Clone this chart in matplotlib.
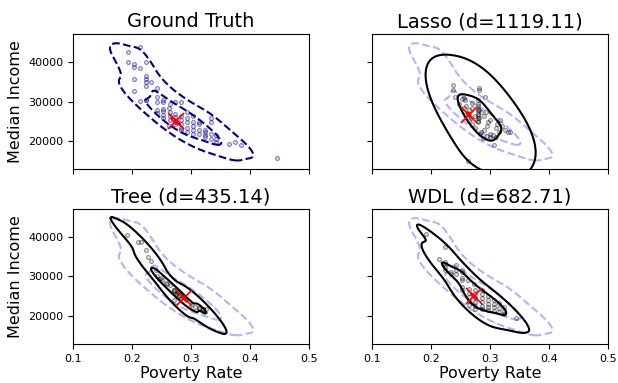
import matplotlib
matplotlib.use("Agg")
import matplotlib.pyplot as plt
from matplotlib.patches import Ellipse
import numpy as np

# ground truth (poverty rate, median income)
gt_pov = [0.213, 0.193, 0.193, 0.203, 0.203, 0.213, 0.223, 0.223, 0.223, 0.223, 0.223, 0.233,
          0.203, 0.203, 0.213, 0.223, 0.223, 0.243, 0.243, 0.243, 0.253, 0.253, 0.243, 0.243,
          0.253, 0.253, 0.253, 0.264, 0.264, 0.264, 0.273, 0.283, 0.263, 0.273, 0.273, 0.273,
          0.273, 0.283, 0.283, 0.283, 0.283, 0.283, 0.293, 0.293, 0.294, 0.294, 0.303, 0.303,
          0.303, 0.303, 0.314, 0.314, 0.314, 0.324, 0.324, 0.324, 0.334, 0.334, 0.334, 0.334,
          0.343, 0.343, 0.365, 0.375, 0.385, 0.445, 0.263, 0.293, 0.314, 0.303, 0.264, 0.253,
          0.343, 0.324]
gt_inc = [43700, 42400, 40000, 39400, 38600, 38300, 40000, 36500, 35700, 35000, 33800, 35000,
          35700, 32600, 30100, 30300, 30500, 33400, 31200, 30000, 30300, 29800, 27800, 27200,
          28100, 27600, 26700, 27500, 26300, 25500, 29800, 30000, 28400, 27000, 26200, 25000,
          24300, 26500, 25500, 24300, 23500, 22800, 26000, 25000, 23500, 22400, 24800, 23800,
          23000, 21800, 23000, 21800, 24300, 23000, 21700, 21000, 25900, 24800, 21800, 20500,
          20500, 19900, 19250, 19900, 19000, 15830, 24000, 27500, 25000, 26300, 29300, 25800,
          21500, 22300]

lasso_pov = [0.238, 0.238, 0.241, 0.252, 0.258, 0.282, 0.282, 0.292, 0.269, 0.264,
             0.279, 0.279, 0.279, 0.279, 0.279, 0.279, 0.279, 0.279, 0.279, 0.279, 0.281, 0.281,
             0.255, 0.260, 0.265, 0.270, 0.275, 0.285, 0.290, 0.295, 0.300, 0.305, 0.310, 0.315,
             0.300, 0.290, 0.285, 0.270, 0.260, 0.295, 0.283, 0.317, 0.334, 0.330, 0.307, 0.263,
             0.300, 0.288, 0.310, 0.320, 0.248, 0.256, 0.275, 0.268, 0.297, 0.312, 0.325, 0.293]
lasso_inc = [34100, 32800, 31200, 30700, 30300, 33400, 33000, 31200, 29700, 27800,
             30300, 29500, 28800, 28200, 27600, 27000, 26400, 25800, 25200, 24900, 28000, 26000,
             28500, 27000, 25500, 24500, 23500, 22500, 23000, 24000, 22000, 21500, 23500, 22500,
             25500, 26500, 27500, 28500, 29000, 21300, 21800, 25300, 22300, 22500, 19000, 15200,
             21000, 20800, 21200, 24000, 29500, 31000, 26500, 26000, 25000, 24500, 23000, 27500]

tree_pov = [0.191, 0.210, 0.216, 0.223, 0.227, 0.233, 0.241, 0.242, 0.246, 0.251, 0.257, 0.264,
            0.272, 0.278, 0.272, 0.286, 0.292, 0.300, 0.306, 0.314, 0.320, 0.326, 0.272, 0.272,
            0.278, 0.275, 0.280, 0.283, 0.314, 0.320, 0.260, 0.250, 0.276, 0.282]
tree_inc = [40500, 38600, 38600, 36700, 34800, 33800, 31500, 30100, 29400, 29000, 28400, 27800,
            26500, 26100, 24000, 24800, 24000, 22800, 22300, 22000, 21900, 21800, 26500, 26300,
            26000, 25500, 25000, 24500, 22000, 21900, 28000, 29500, 25800, 25300]

wdl_pov = [0.192, 0.213, 0.223, 0.223, 0.223, 0.223, 0.223, 0.233, 0.233, 0.243, 0.243, 0.243,
           0.252, 0.252, 0.252, 0.252, 0.263, 0.252, 0.252, 0.272, 0.344,
           0.264, 0.264, 0.264, 0.264, 0.264, 0.275, 0.275, 0.275, 0.275, 0.275, 0.275,
           0.286, 0.286, 0.286, 0.286, 0.286, 0.286, 0.296, 0.296, 0.296, 0.296, 0.296,
           0.306, 0.306, 0.306, 0.306, 0.315, 0.315, 0.315, 0.324, 0.324, 0.324]
wdl_inc = [40700, 34400, 37300, 33600, 33000, 32300, 31500, 31100, 30500, 32800, 31500, 30700,
           31500, 31200, 29700, 29000, 29000, 27300, 26500, 28200, 19700,
           26900, 25900, 24900, 23800, 22800, 26500, 25500, 24500, 23500, 22600, 21900,
           26500, 25500, 24500, 23500, 22600, 21900, 25000, 24100, 23200, 22300, 21600,
           24100, 23200, 22300, 21400, 23300, 22200, 21200, 22300, 21400, 20500]

titles = ["Ground Truth", "Lasso (d=1119.11)", "Tree (d=435.14)", "WDL (d=682.71)"]
center_pov = [0.274, 0.264, 0.288, 0.273]
center_inc = [25080, 26750, 24600, 25000]
# kde bandwidth factor (outer, inner) and mass proportions (outer, inner) per panel
bw_outer = [1.0, 2.6, 1.0, 1.1]
bw_inner = [0.9, 1.3, 0.8, 0.9]
prop_outer = [0.08, 0.05, 0.03, 0.04]
prop_inner = [0.5, 0.45, 0.45, 0.45]


def kde_grid(xs, ys, factor, gx, gy):
    data = np.vstack([xs, ys])
    n = data.shape[1]
    cov = np.cov(data) * (factor * n ** (-1 / 6)) ** 2
    inv = np.linalg.inv(cov)
    pts = np.stack([gx.ravel(), gy.ravel()])
    d = pts[:, :, None] - data[:, None, :]
    e = np.einsum('ij,jgn,ign->gn', inv, d, d)
    return np.exp(-0.5 * e).sum(1).reshape(gx.shape)


def mass_level(z, p):
    flat = np.sort(z.ravel())
    cum = np.cumsum(flat)
    cum /= cum[-1]
    return flat[np.searchsorted(cum, p)]


def kde_contours(ax, xs, ys, i, **kw):
    for bw, p in [(bw_outer[i], prop_outer[i]), (bw_inner[i], prop_inner[i])]:
        z = kde_grid(xs, ys, bw, gx, gy)
        ax.contour(gx, gy, z, levels=[mass_level(z, p)], **kw)


gx, gy = np.meshgrid(np.linspace(0.0, 0.6, 240), np.linspace(0, 60000, 240))

fig, axes = plt.subplots(2, 2, figsize=(6.18, 3.83), dpi=100, sharex=True, sharey=True)
fig.subplots_adjust(left=0.118, right=0.984, top=0.911, bottom=0.102, hspace=0.296, wspace=0.267)

panels = [(gt_pov, gt_inc), (lasso_pov, lasso_inc), (tree_pov, tree_inc), (wdl_pov, wdl_inc)]
for i, ax in enumerate(axes.flat):
    xs, ys = panels[i]
    if i == 0:
        ax.scatter(xs, ys, s=8, facecolors=(0.0, 0.0, 0.55, 0.15), edgecolors=(0.0, 0.0, 0.55, 0.45), lw=0.8)
        kde_contours(ax, gt_pov, gt_inc, 0, colors='darkblue', linestyles='dashed', linewidths=1.5)
    else:
        kde_contours(ax, gt_pov, gt_inc, 0, colors='blue', alpha=0.3, linestyles='dashed', linewidths=1.5)
        ax.scatter(xs, ys, s=8, facecolors=(0, 0, 0, 0.12), edgecolors=(0, 0, 0, 0.4), lw=0.8)
        kde_contours(ax, xs, ys, i, colors='black', linewidths=1.5)

    # red mean marker with a small covariance ellipse
    cov = np.cov(np.vstack([xs, ys]))
    vals, vecs = np.linalg.eigh(cov)
    ang = np.degrees(np.arctan2(vecs[1, 1], vecs[0, 1]))
    ell = Ellipse((center_pov[i], center_inc[i]), 2 * 0.15 * np.sqrt(vals[1]), 2 * 0.15 * np.sqrt(vals[0]),
                  angle=ang, fill=False, ec='red', lw=1.3)
    ax.add_patch(ell)
    ax.plot(center_pov[i], center_inc[i], marker='x', ms=12, mew=1.2, color='red')

    ax.set_title(titles[i], fontsize=14, pad=5)
    ax.set_xlim(0.1, 0.5)
    ax.set_ylim(13100, 46900)
    ax.set_xticks([0.1, 0.2, 0.3, 0.4, 0.5])
    ax.set_yticks([20000, 30000, 40000])
    ax.tick_params(labelsize=8)

axes[0, 0].set_ylabel("Median Income", fontsize=11.5)
axes[1, 0].set_ylabel("Median Income", fontsize=11.5)
axes[1, 0].set_xlabel("Poverty Rate", fontsize=11.5, labelpad=2)
axes[1, 1].set_xlabel("Poverty Rate", fontsize=11.5, labelpad=2)

fig.savefig("out.png", dpi=100)
